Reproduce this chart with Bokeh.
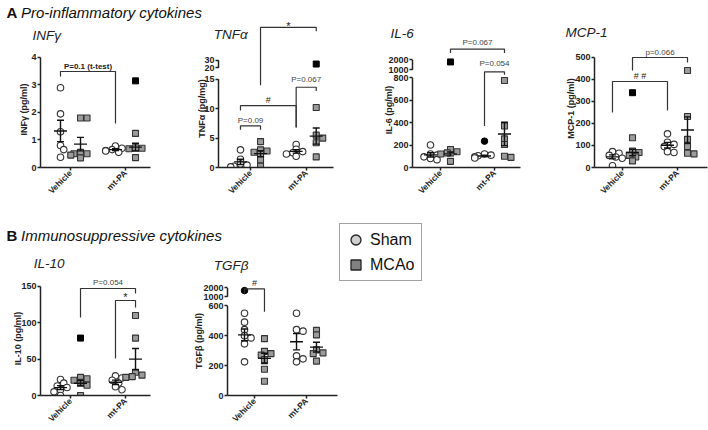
import math
import statistics
from bokeh.plotting import figure
from bokeh.models import (Range1d, FixedTicker, LinearAxis, Legend,
                          LegendItem, ColumnDataSource)
from bokeh.layouts import row, column
from bokeh.embed import file_html
from bokeh.resources import INLINE
from bokeh.core.properties import value

FONT = "Liberation Sans"
GROUPS = ["Vehicle", "mt-PA"]
CONDS = ["Sham", "MCAo"]

# ------------------------------------------------------------------ data
# INFγ (pg/ml)
infg_veh_sham = [2.9, 1.95, 1.3, 0.8, 0.65, 0.37]
infg_veh_mcao = [1.8, 1.8, 0.55, 0.5, 0.5, 0.45, 0.35]
infg_mtpa_sham = [0.78, 0.7, 0.65, 0.62, 0.6, 0.55]
infg_mtpa_mcao = [1.24, 0.72, 0.7, 0.68, 0.36]
infg_outliers = [("mt-PA", "MCAo", 3.15)]
infg_ticks = [0, 1, 2, 3, 4]

# TNFα (pg/mg)
tnfa_veh_sham = [3.0, 1.4, 0.6, 0.4, 0.2, 0.1]
tnfa_veh_mcao = [4.4, 3.0, 2.8, 2.6, 2.2, 1.3, 0.2]
tnfa_mtpa_sham = [3.9, 3.1, 2.7, 2.5, 2.3, 1.9]
tnfa_mtpa_mcao = [10.2, 5.5, 5.0, 4.2, 1.8]
tnfa_outliers = [("mt-PA", "MCAo", 25)]
tnfa_ticks = [0, 5, 10, 15, 20, 30]

# IL-6 (pg/ml)
il6_veh_sham = [200, 120, 110, 95, 80, 70]
il6_veh_mcao = [160, 140, 130, 120, 55]
il6_mtpa_sham = [120, 110, 105, 95, 85]
il6_mtpa_mcao = [775, 370, 255, 205, 100, 90]
il6_outliers = [("Vehicle", "MCAo", 1800), ("mt-PA", "Sham", 235)]
il6_ticks = [0, 200, 400, 600, 800, 1000, 2000]

# MCP-1 (pg/ml)
mcp1_veh_sham = [72, 65, 55, 48, 42, 8]
mcp1_veh_mcao = [135, 75, 68, 55, 48, 30]
mcp1_mtpa_sham = [153, 115, 105, 95, 72, 68]
mcp1_mtpa_mcao = [441, 232, 128, 95, 65, 62]
mcp1_outliers = [("Vehicle", "MCAo", 340)]
mcp1_ticks = [0, 100, 200, 300, 400, 500]

# IL-10 (pg/ml)
il10_veh_sham = [22, 17, 13, 11, 8, 5, 0]
il10_veh_mcao = [25, 23, 21, 18, 14, 0]
il10_mtpa_sham = [27, 24, 21, 17, 12, 8]
il10_mtpa_mcao = [110, 79, 32, 28, 26, 25]
il10_outliers = [("Vehicle", "MCAo", 79)]
il10_ticks = [0, 50, 100, 150]

# TGFβ (pg/ml)
tgfb_veh_sham = [550, 490, 440, 400, 385, 345, 225]
tgfb_veh_mcao = [380, 295, 280, 270, 240, 175, 95]
tgfb_mtpa_sham = [550, 440, 430, 265, 245, 225]
tgfb_mtpa_mcao = [435, 405, 305, 285, 280, 230]
tgfb_outliers = [("Vehicle", "Sham", 1700)]
tgfb_ticks = [0, 200, 400, 600, 1000, 2000]

# significance brackets (axis units):
# (from group, cond, to group, cond, top, left end, right end, text, text y)
infg_brackets = [("Vehicle", "Sham", "mt-PA", "Sham", 3.49, 3.31, 1.60, "P=0.1 (t-test)", 3.67)]
tnfa_brackets = [
    ("Vehicle", "MCAo", "mt-PA", "MCAo", 23.82, 13.96, 23.16, "*", 24.1),
    ("mt-PA", "Sham", "mt-PA", "MCAo", 13.64, 6.9, 12.98, "P=0.067", 14.95),
    ("Vehicle", "Sham", "mt-PA", "Sham", 10.51, 9.69, 6.74, "#", 11.5),
    ("Vehicle", "Sham", "Vehicle", "MCAo", 7.06, 6.41, 6.41, "P=0.09", 8.05),
]
il6_brackets = [
    ("Vehicle", "MCAo", "mt-PA", "MCAo", 1055, 1020, 1020, "P=0.067", 1116),
    ("mt-PA", "Sham", "mt-PA", "MCAo", 853, 369, 826, "P=0.054", 923),
]
mcp1_brackets = [
    ("Vehicle", "MCAo", "mt-PA", "MCAo", 500, 441, 477, "p=0.066", 523),
    ("Vehicle", "Sham", "mt-PA", "Sham", 391, 250, 259, "# #", 418),
]
il10_brackets = [
    ("Vehicle", "MCAo", "mt-PA", "MCAo", 147.2, 107.3, 140.4, "P=0.054", 155.5),
    ("mt-PA", "Sham", "mt-PA", "MCAo", 130.7, 50.9, 121.1, "*", 135.5),
]
tgfb_brackets = [("Vehicle", "Sham", "Vehicle", "MCAo", 712, 686, 560, "#", 750)]

# broken axes: values above "main" are compressed onto a short segment
tnfa_break = dict(main=15, raw=(20, 30), plot=(16.92, 18.24))
il6_break = dict(main=800, raw=(1000, 2000), plot=(870.3, 958.2))
tgfb_break = dict(main=600, raw=(1000, 2000), plot=(659.3, 718.7))

# ------------------------------------------------------------------ helpers
DIAM = 6.5


def tr(v, brk):
    if brk is None or v <= brk["main"]:
        return v
    (r0, r1), (p0, p1) = brk["raw"], brk["plot"]
    return p0 + (v - r0) * (p1 - p0) / (r1 - r0)


def swarm(yv, pxy):
    order = sorted(range(len(yv)), key=lambda i: -yv[i])
    placed, offs = [], [0.0] * len(yv)
    cands = [0, 1, -1, 2, -2, 3, -3]
    step = DIAM * 0.5
    for i in order:
        yp = yv[i] * pxy
        xp = 0.0
        for k in cands:
            xp = k * step
            if all((xp - a) ** 2 + (yp - b) ** 2 >= (DIAM * 0.7) ** 2 for a, b in placed):
                break
        placed.append((xp, yp))
        offs[i] = xp
    return offs


def style_axis(ax, size):
    ax.axis_line_width = 1.5
    ax.axis_line_color = "#222222"
    ax.major_tick_line_width = 1.5
    ax.major_tick_line_color = "#222222"
    ax.major_tick_out = 3
    ax.major_tick_in = 0
    ax.minor_tick_line_color = None
    ax.major_label_text_font = FONT
    ax.major_label_text_font_style = "bold"
    ax.major_label_text_font_size = size
    ax.major_label_text_color = "#222222"
    ax.major_label_standoff = 1


def txt(p, x, y, s, size, style="normal", color="#222222", align="left", angle=0.0):
    p.text(x=[x], y=[y], text=[s], angle=angle, text_font=value(FONT),
           text_font_size=value(size), text_font_style=style, text_color=color,
           text_align=align, text_baseline="middle", level="overlay")


def panel(title, ylabel, series, outliers, ticks, brk, brackets, L):
    W, H, bl, br, bb = L["W"], L["H"], L["bl"], L["br"], L["bb"]
    x0, x1 = L["x"]
    fw, fh = W - bl - br, H - bb
    pxx = fw / (x1 - x0)
    pxy = fh / L["ytop"]
    p = figure(width=W, height=H, x_range=Range1d(x0, x1), y_range=Range1d(0, L["ytop"]),
               x_axis_type=None, y_axis_type=None, toolbar_location=None, title=None,
               output_backend="svg", min_border_left=bl, min_border_right=br,
               min_border_top=0, min_border_bottom=bb)
    p.outline_line_color = None

    def gx(g, c):
        return GROUPS.index(g) + 1 + (-1 if c == "Sham" else 1) * L["d"]

    # axes
    xa = LinearAxis(ticker=FixedTicker(ticks=[1, 2]),
                    major_label_overrides={1: "Vehicle", 2: "mt-PA"})
    style_axis(xa, "8.5px")
    xa.major_label_orientation = math.pi / 4
    p.add_layout(xa, "below")

    tick_pos = [round(tr(t, brk), 3) for t in ticks]
    overrides = {pos: str(t) for pos, t in zip(tick_pos, ticks) if pos != t}
    ya = LinearAxis(ticker=FixedTicker(ticks=tick_pos), major_label_overrides=overrides,
                    bounds=(0, tick_pos[-1]))
    style_axis(ya, "9px")
    p.add_layout(ya, "left")
    if brk is not None:
        ya.axis_line_color = None
        p.segment(x0=[x0, x0], y0=[0, brk["plot"][0]], x1=[x0, x0],
                  y1=[brk["main"], brk["plot"][1]], line_color="#222222",
                  line_width=1.5, level="overlay")

    # points
    pts = {"Sham": dict(x=[], y=[]), "MCAo": dict(x=[], y=[])}
    stats = []
    for g in GROUPS:
        for c in CONDS:
            vals = series[(g, c)]
            yv = [tr(v, brk) for v in vals]
            offs = swarm(yv, pxy)
            pts[c]["x"] += [gx(g, c) + o / pxx for o in offs]
            pts[c]["y"] += yv
            m = statistics.mean(vals)
            s = statistics.stdev(vals) / math.sqrt(len(vals))
            stats.append((gx(g, c), m, s))
    p.scatter(pts["Sham"]["x"], pts["Sham"]["y"], marker="circle", size=DIAM,
              fill_color="white", line_color="#333333", line_width=1.1)
    p.scatter(pts["MCAo"]["x"], pts["MCAo"]["y"], marker="square", size=DIAM - 0.5,
              fill_color="#9b9b9b", line_color="#333333", line_width=1.1)
    for (g, c, v) in outliers:
        p.scatter([gx(g, c)], [tr(v, brk)], marker="circle" if c == "Sham" else "square",
                  size=DIAM if c == "Sham" else DIAM - 0.5,
                  fill_color="black", line_color="black", line_width=1)

    # mean ± SEM
    hw, cw = 6.5 / pxx, 3.5 / pxx
    sx0, sy0, sx1, sy1 = [], [], [], []
    for (x, m, s) in stats:
        sx0 += [x - hw, x, x - cw, x - cw]
        sx1 += [x + hw, x, x + cw, x + cw]
        sy0 += [m, m - s, m - s, m + s]
        sy1 += [m, m + s, m - s, m + s]
    p.segment(x0=sx0, y0=sy0, x1=sx1, y1=sy1, line_color="#111111", line_width=1.4)

    # brackets
    for (g1, c1, g2, c2, top, yl, yr, label, ty) in brackets:
        xa_, xb_ = gx(g1, c1), gx(g2, c2)
        p.line([xa_, xa_, xb_, xb_], [yl, top, top, yr], line_color="#333333",
               line_width=1.2, level="overlay")
        sym = label in ("*", "#", "# #")
        bold = "t-test" in label
        txt(p, (xa_ + xb_) / 2, ty, label,
            "11px" if label == "*" else ("9px" if sym else "8px"),
            style="bold" if bold else "normal",
            color="#222222" if (sym or bold) else "#444444", align="center")

    # subtitle + y label (offsets in px from frame left / axis zero)
    tx, ty_ = L["title"]
    txt(p, x0 + tx / pxx, ty_ / pxy, title, "13.5px", style="italic")
    lx, ly = L["ylab"]
    txt(p, x0 + lx / pxx, ly / pxy, ylabel, "9px", style="bold", align="center",
        angle=math.pi / 2)
    return p


def heading(width, height, letter, text, mid):
    h = figure(width=width, height=height, x_range=Range1d(0, width), y_range=Range1d(0, height),
               x_axis_type=None, y_axis_type=None, toolbar_location=None, title=None,
               output_backend="svg", min_border=0)
    h.outline_line_color = None
    txt(h, 6, mid, letter, "15px", style="bold", color="#111111")
    txt(h, 20.5, mid, text, "15px", style="italic", color="#111111")
    return h


# ------------------------------------------------------------------ panels
L_INFG = dict(W=178, H=201, bl=40, br=28, bb=55, x=(0.4545, 2.4545), ytop=5.309, d=0.182,
              title=(-8.0, 132.4), ylab=(-16.3, 58.0))
L_TNFA = dict(W=192, H=201, bl=40, br=37, bb=50, x=(0.4255, 2.4901), ytop=24.81, d=0.18,
              title=(-4.7, 137.4), ylab=(-17.0, 61.0))
L_IL6 = dict(W=182, H=201, bl=42, br=32, bb=53, x=(0.4815, 2.4815), ytop=1301.0, d=0.185,
             title=(-22.0, 135.4), ylab=(-24.0, 58.3))
L_MCP1 = dict(W=156, H=201, bl=42, br=1, bb=55, x=(0.491, 2.5455), ytop=663.6, d=0.182,
              title=(-29.0, 135.0), ylab=(-24.0, 59.0))
L_IL10 = dict(W=183, H=184, bl=40, br=33, bb=35, x=(0.4545, 2.4545), ytop=205.0, d=0.182,
              title=(-6.7, 132.4), ylab=(-23.0, 57.0))
L_TGFB = dict(W=155, H=184, bl=44, br=1, bb=33, x=(0.481, 2.596), ytop=995.6, d=0.192,
              title=(-13.7, 131.7), ylab=(-28.5, 55.3))


def ser(a, b, c, d):
    return {("Vehicle", "Sham"): a, ("Vehicle", "MCAo"): b, ("mt-PA", "Sham"): c, ("mt-PA", "MCAo"): d}


p1 = panel("INFγ", "INFγ (pg/ml)", ser(infg_veh_sham, infg_veh_mcao, infg_mtpa_sham, infg_mtpa_mcao),
           infg_outliers, infg_ticks, None, infg_brackets, L_INFG)
p2 = panel("TNFα", "TNFα (pg/mg)", ser(tnfa_veh_sham, tnfa_veh_mcao, tnfa_mtpa_sham, tnfa_mtpa_mcao),
           tnfa_outliers, tnfa_ticks, tnfa_break, tnfa_brackets, L_TNFA)
p3 = panel("IL-6", "IL-6 (pg/ml)", ser(il6_veh_sham, il6_veh_mcao, il6_mtpa_sham, il6_mtpa_mcao),
           il6_outliers, il6_ticks, il6_break, il6_brackets, L_IL6)
p4 = panel("MCP-1", "MCP-1 (pg/ml)", ser(mcp1_veh_sham, mcp1_veh_mcao, mcp1_mtpa_sham, mcp1_mtpa_mcao),
           mcp1_outliers, mcp1_ticks, None, mcp1_brackets, L_MCP1)
p5 = panel("IL-10", "IL-10 (pg/ml)", ser(il10_veh_sham, il10_veh_mcao, il10_mtpa_sham, il10_mtpa_mcao),
           il10_outliers, il10_ticks, None, il10_brackets, L_IL10)
p6 = panel("TGFβ", "TGFβ (pg/ml)", ser(tgfb_veh_sham, tgfb_veh_mcao, tgfb_mtpa_sham, tgfb_mtpa_mcao),
           tgfb_outliers, tgfb_ticks, tgfb_break, tgfb_brackets, L_TGFB)

# legend figure (legend glyph renderers hold a single off-range point)
lg = figure(width=90, height=208, x_range=Range1d(0, 1), y_range=Range1d(0, 1),
            x_axis_type=None, y_axis_type=None, toolbar_location=None, title=None,
            output_backend="svg", min_border=0)
lg.outline_line_color = None
off = ColumnDataSource(dict(x=[-10.0], y=[-10.0]))
r_sham = lg.scatter("x", "y", source=off, marker="circle", fill_color="#cfcfcf",
                    line_color="#222222", line_width=1.3)
r_mcao = lg.scatter("x", "y", source=off, marker="square", fill_color="#808080",
                    line_color="#222222", line_width=1.3)
legend = Legend(items=[LegendItem(label="Sham", renderers=[r_sham]),
                       LegendItem(label="MCAo", renderers=[r_mcao])],
                location="top_left", margin=1, padding=3, spacing=0,
                glyph_width=25, glyph_height=25, label_height=25,
                label_standoff=2, label_width=48,
                label_text_font=FONT, label_text_font_size="16px", label_text_color="#111111",
                border_line_color="#444444", border_line_width=1,
                background_fill_color="white", background_fill_alpha=1)
lg.add_layout(legend)

headA = heading(708, 21, "A", "Pro-inflammatory cytokines", 9.0)
headB = heading(338, 24, "B", "Immunosuppressive cytokines", 11.5)

layout = column(headA, row(p1, p2, p3, p4),
                row(column(headB, row(p5, p6)), lg))

open("out.html", "w").write(file_html(layout, INLINE))
